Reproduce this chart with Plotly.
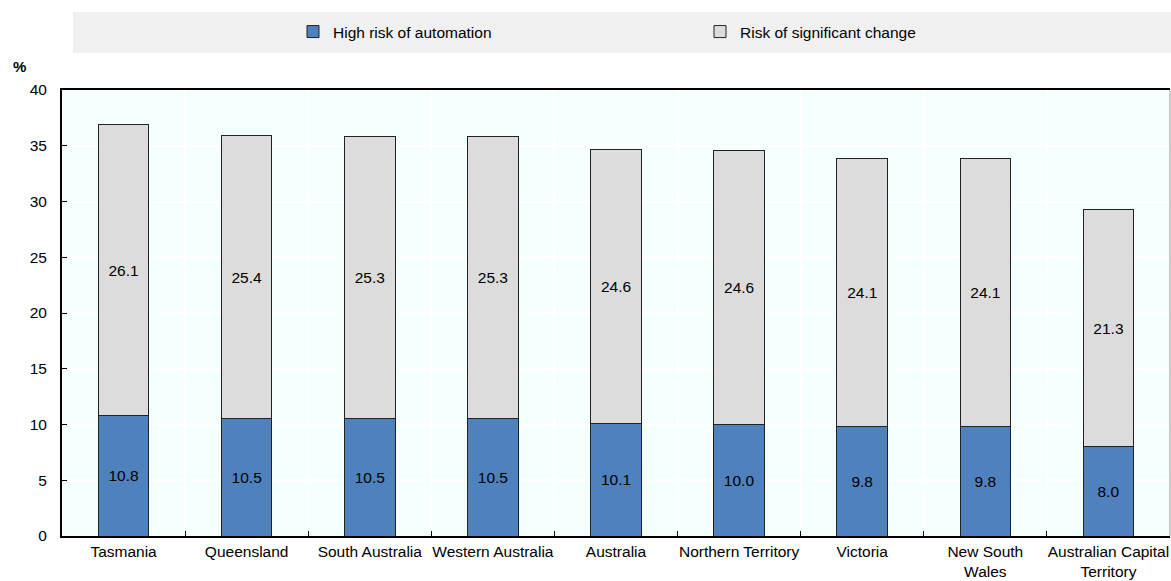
import plotly.graph_objects as go

regions = ["Tasmania", "Queensland", "South Australia", "Western Australia", "Australia",
           "Northern Territory", "Victoria", "New South<br>Wales", "Australian Capital<br>Territory"]
high_risk = [10.8, 10.5, 10.5, 10.5, 10.1, 10.0, 9.8, 9.8, 8.0]
significant_change = [26.1, 25.4, 25.3, 25.3, 24.6, 24.6, 24.1, 24.1, 21.3]

FONT = "Liberation Sans Narrow, Arial Narrow, Liberation Sans, Arial, sans-serif"
W, H = 1171, 581
L, R, T, B = 62, 1, 90, 45
plot_h = H - T - B

fig = go.Figure()
fig.add_trace(go.Bar(
    x=regions, y=high_risk, name="High risk of automation",
    marker=dict(color="#4F81BD", line=dict(color="#222222", width=1)),
    text=high_risk, texttemplate="%{text:.1f}", textposition="inside",
    insidetextanchor="middle", textangle=0, constraintext="none",
    textfont=dict(color="black", size=15.5, family=FONT), width=0.41,
))
fig.add_trace(go.Bar(
    x=regions, y=significant_change, name="Risk of significant change",
    marker=dict(color="#DCDCDC", line=dict(color="#222222", width=1)),
    text=significant_change, texttemplate="%{text:.1f}", textposition="inside",
    insidetextanchor="middle", textangle=0, constraintext="none",
    textfont=dict(color="black", size=15.5, family=FONT), width=0.41,
))

def py(pix):
    """Paper y coordinate for a pixel row measured from the top of the page."""
    return (H - B - pix) / plot_h

def px(pix):
    return (pix - L) / (W - L - R)

# grey band behind the legend
fig.add_shape(type="rect", xref="paper", yref="paper",
              x0=px(73), x1=px(1171), y0=py(53), y1=py(12),
              fillcolor="#F0F0F0", line=dict(width=0), layer="below")
# thin right border of the plot frame
fig.add_shape(type="line", xref="paper", yref="paper",
              x0=1, x1=1, y0=0, y1=1, line=dict(color="#999999", width=1))

fig.add_annotation(text="<b>%</b>", xref="paper", yref="paper",
                   x=px(11), y=py(56), showarrow=False,
                   font=dict(size=15, family="Liberation Sans, Arial", color="black"))

fig.update_layout(
    width=W, height=H,
    margin=dict(l=L, r=R, t=T, b=B, autoexpand=False),
    barmode="stack",
    paper_bgcolor="white",
    plot_bgcolor="#F4FFFF",
    font=dict(family=FONT, size=15.5, color="black"),
    showlegend=True,
    legend=dict(
        orientation="h", xref="container", yref="container",
        x=293 / W, xanchor="left", y=1 - 32 / H, yanchor="middle",
        bgcolor="rgba(0,0,0,0)", entrywidth=362, entrywidthmode="pixels",
        font=dict(size=15.5, family=FONT), traceorder="normal",
    ),
    xaxis=dict(
        type="category", tickson="boundaries", ticks="inside", ticklen=5,
        tickcolor="black", showgrid=True, gridcolor="white", gridwidth=1.5,
        showline=True, linecolor="black", linewidth=2, mirror=True,
        tickangle=0, automargin=False,
        tickfont=dict(size=15.5, family=FONT),
    ),
    yaxis=dict(
        range=[0, 40], dtick=5, ticks="inside", ticklen=5, tickcolor="black",
        showgrid=True, gridcolor="white", gridwidth=1.5,
        showline=True, linecolor="black", linewidth=2, zeroline=False,
        automargin=False, ticklabelstandoff=10,
        tickfont=dict(size=15.5, family=FONT),
    ),
)

fig.write_html("out.html")
